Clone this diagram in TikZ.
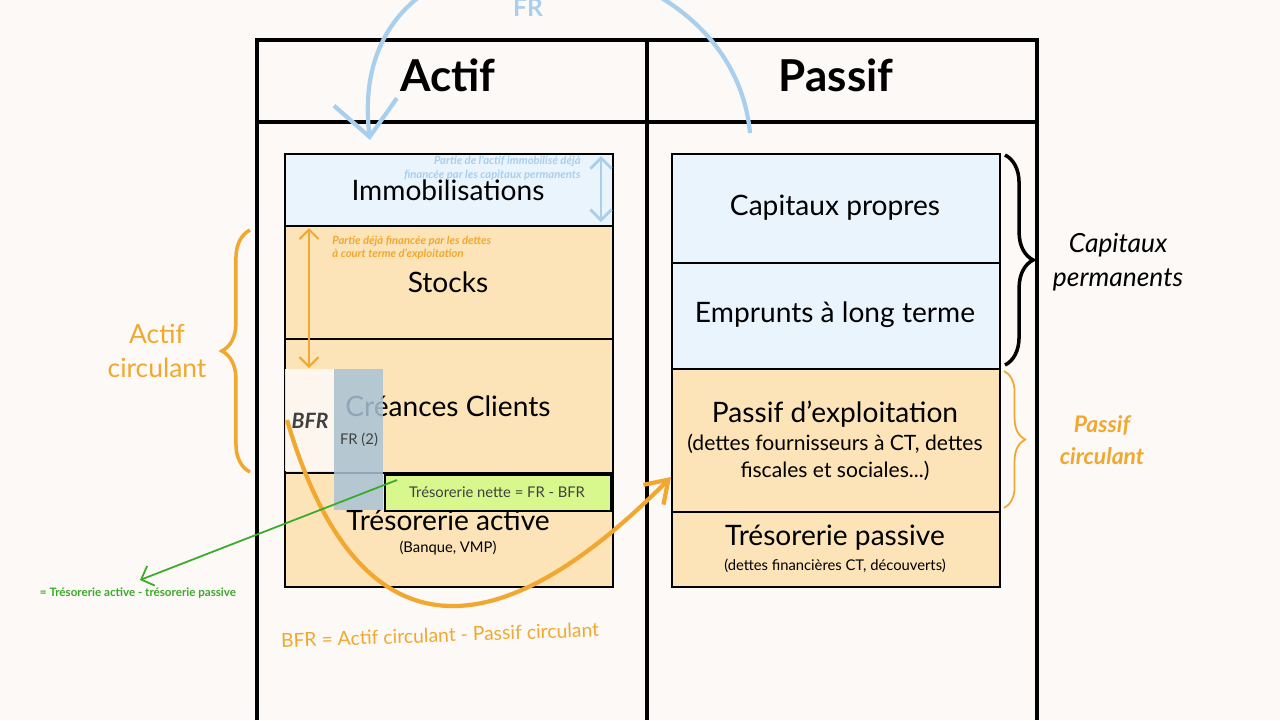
\documentclass[tikz,border=0pt]{standalone}
\usepackage{fontspec}
\setmainfont{Lato}
\usetikzlibrary{arrows.meta, decorations.pathreplacing}
\definecolor{paper}{HTML}{FDF9F6}
\definecolor{skyfill}{HTML}{EAF4FD}
\definecolor{sandfill}{HTML}{FCE3B8}
\definecolor{orangeline}{HTML}{F0A830}
\definecolor{skyline}{HTML}{A8CFEE}
\definecolor{greenline}{HTML}{3AAA2A}
\definecolor{limefill}{HTML}{D8F78C}
\definecolor{frfill}{HTML}{A9C4D6}

\tikzset{
  bloc/.style={draw=black, line width=0.5pt, inner sep=0pt, anchor=north west},
  big/.style={font=\fontsize{8}{10}\selectfont},
  small/.style={font=\fontsize{4.2}{5}\selectfont},
  tiny/.style={font=\bfseries\itshape\fontsize{3.2}{3.8}\selectfont, align=left},
}

\begin{document}
\begin{tikzpicture}[x=0.01cm, y=-0.01cm]

  \fill[paper] (0, 0) rectangle (1280, 720);
  \useasboundingbox (0, 0) rectangle (1280, 720);

  % table frame
  \draw[line width=1.2pt] (257, 720) -- (257, 40) -- (1037, 40) -- (1037, 720);
  \draw[line width=1.2pt] (647, 40) -- (647, 720);
  \draw[line width=1.2pt] (257, 122) -- (1037, 122);
  \node[font=\bfseries\fontsize{12.5}{14}\selectfont] (actif) at (448, 75) {Actif};
  \node[font=\bfseries\fontsize{12.5}{14}\selectfont] (passif) at (836, 75) {Passif};

  % actif
  \node[bloc, fill=skyfill, minimum width=3.28cm, minimum height=0.72cm] (immo) at (284, 153) {};
  \node[bloc, fill=sandfill, minimum width=3.28cm, minimum height=1.13cm] (stocks) at (284, 225) {};
  \node[bloc, fill=sandfill, minimum width=3.28cm, minimum height=1.34cm] (creances) at (284, 338) {};
  \node[bloc, fill=sandfill, minimum width=3.28cm, minimum height=1.14cm] (treso) at (284, 472) {};
  \node[big] at (448, 190) {Immobilisations};
  \node[big] at (448, 282) {Stocks};
  \node[big] at (448, 520) {Trésorerie active};
  \node[small] at (448, 548) {(Banque, VMP)};

  \fill[paper, opacity=0.9] (285, 369) rectangle (334, 471);
  \node[font=\bfseries\itshape\fontsize{6}{7}\selectfont, text=black!75] (bfr) at (310, 421) {BFR};
  \node[big] at (448, 406) {Créances Clients};
  \fill[frfill, opacity=0.85] (334, 369) rectangle (383, 510);
  \node[small, text=black!75] (fr2) at (359, 440) {FR (2)};
  \node[bloc, fill=limefill, minimum width=2.26cm, minimum height=0.36cm] (nette) at (384, 474) {};
  \node[small, text=black!75] at (497, 492) {Trésorerie nette = FR - BFR};

  % passif
  \node[bloc, fill=skyfill, minimum width=3.28cm, minimum height=1.09cm] (propres) at (671, 153) {};
  \node[bloc, fill=skyfill, minimum width=3.28cm, minimum height=1.06cm] (emprunts) at (671, 262) {};
  \node[bloc, fill=sandfill, minimum width=3.28cm, minimum height=1.43cm] (exploit) at (671, 368) {};
  \node[bloc, fill=sandfill, minimum width=3.28cm, minimum height=0.75cm] (tresop) at (671, 511) {};
  \node[big] at (835, 208) {Capitaux propres};
  \node[big] at (835, 315) {Emprunts à long terme};
  \node[big] at (835, 414) {Passif d’exploitation};
  \node[font=\fontsize{6}{7.6}\selectfont, align=center] at (835, 457) {(dettes fournisseurs à CT, dettes\\fiscales et sociales...)};
  \node[big] at (835, 538) {Trésorerie passive};
  \node[small] at (835, 566) {(dettes financières CT, découverts)};

  % notes in the boxes
  \draw[skyline, line width=0.8pt, {Straight Barb[length=3pt]}-{Straight Barb[length=3pt]}] (601, 156) -- (601, 222);
  \node[tiny, text=skyline, align=right, anchor=east] at (593, 168) {Partie de l’actif immobilisé déjà\\financée par les capitaux permanents};
  \draw[orangeline, line width=0.6pt, {Straight Barb}-{Straight Barb}] (309, 228) -- (309, 368);
  \node[tiny, text=orangeline, anchor=west] at (320, 248) {Partie déjà financée par les dettes\\à court terme d’exploitation};

  % braces
  \draw[orangeline, line width=1pt, decorate, decoration={brace, amplitude=8pt}] (250, 472) -- (250, 230);
  \node[font=\fontsize{7.5}{9.5}\selectfont, text=orangeline, align=center] (actcirc) at (157, 351) {Actif\\circulant};
  \draw[line width=1pt, decorate, decoration={brace, amplitude=8pt}] (1005, 155) -- (1005, 365);
  \node[font=\itshape\fontsize{7.5}{9.5}\selectfont, align=center] (capperm) at (1118, 262) {Capitaux\\permanents};
  \draw[orangeline, line width=0.5pt, decorate, decoration={brace, amplitude=6pt}] (1004, 371) -- (1004, 508);
  \node[font=\bfseries\itshape\fontsize{6.5}{9}\selectfont, text=orangeline, align=center] (pascirc) at (1102, 440) {Passif\\circulant};

  % FR arc
  \coordinate (frstart) at (750, 133);
  \coordinate (frend) at (370, 140);
  \draw[skyline, line width=1.2pt, -{Straight Barb[length=10pt, width=18pt]}]
    (frstart) .. controls (730, -80) and (340, -110) .. (frend);
  \node[font=\bfseries\fontsize{7}{8}\selectfont, text=skyline] (fr) at (528, 8) {FR};

  % BFR curve
  \coordinate (bfrstart) at (287, 420);
  \coordinate (bfrend) at (671, 477);
  \draw[orangeline, line width=1.2pt, -{Straight Barb[length=6pt, width=8pt]}]
    (bfrstart) .. controls (340, 600) and (450, 700) .. (bfrend);
  \node[font=\fontsize{5.5}{6}\selectfont, text=orangeline, rotate=2] (bfrtext) at (440, 635) {BFR = Actif circulant - Passif circulant};

  % net cash arrow
  \coordinate (netpoint) at (397, 480);
  \node[font=\bfseries\fontsize{3.3}{4}\selectfont, text=greenline] (netlabel) at (138, 593) {= Trésorerie active - trésorerie passive};
  \draw[greenline, line width=0.5pt, -{Straight Barb[length=3pt]}] (netpoint) -- (140, 580);

\end{tikzpicture}
\end{document}
